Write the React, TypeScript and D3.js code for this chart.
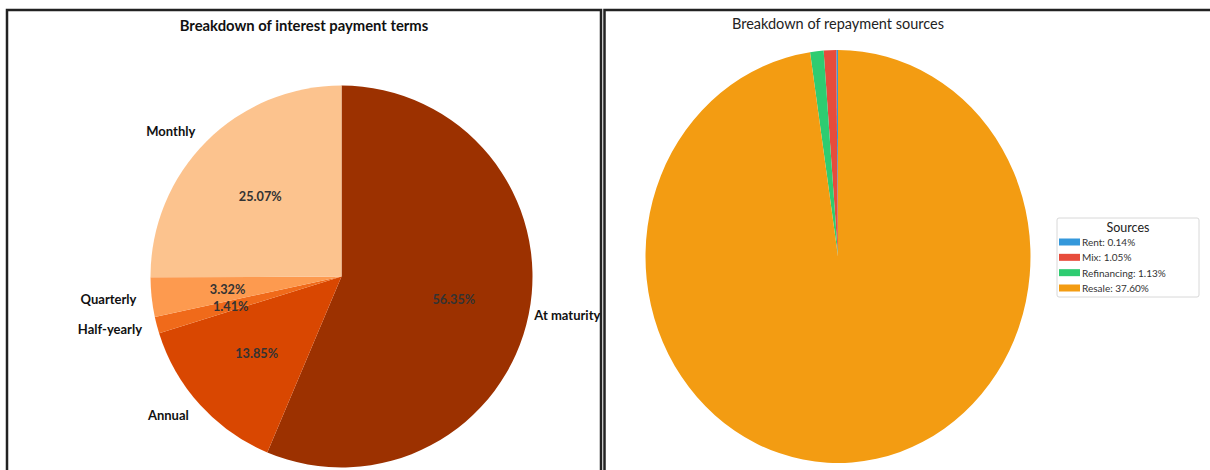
import React from "react";
import * as d3 from "d3";

const interestLabels = ["At maturity", "Annual", "Half-yearly", "Quarterly", "Monthly"];
const interestValues = [56.35, 13.85, 1.41, 3.32, 25.07];
const interestColors = ["#9c3100", "#d94701", "#f06a1a", "#fd9a4f", "#fcc38e"];

const sourceNames = ["Rent", "Mix", "Refinancing", "Resale"];
const sourceSlices = [0.14, 1.05, 1.13, 97.68];
const sourceLegendPct = ["0.14", "1.05", "1.13", "37.60"];
const sourceColors = ["#3498db", "#e74c3c", "#2ecc71", "#f39c12"];

const W = 1210;
const H = 470;
const FONT = "Lato, 'Open Sans', sans-serif";

export default function App() {
  // left pie
  const lcx = 341.5, lcy = 276.5, lr = 191;
  const leftPie = d3.pie<number>().sort(null).startAngle(0).endAngle(2 * Math.PI)(interestValues);
  const leftArc = d3.arc<d3.PieArcDatum<number>>().innerRadius(0).outerRadius(lr);
  const pctArc = d3.arc<d3.PieArcDatum<number>>().innerRadius(lr * 0.6).outerRadius(lr * 0.6);

  // right pie (elliptical)
  const rcx = 838, rcy = 256.5, rx = 192.5, ry = 206.5, base = 200;
  const rightPie = d3.pie<number>().sort(null).startAngle(0).endAngle(-2 * Math.PI)(sourceSlices);
  const rightArc = d3.arc<d3.PieArcDatum<number>>().innerRadius(0).outerRadius(base);

  const legX = 1057, legY = 218, legW = 142, legH = 79;
  const rowY = d3.scalePoint<string>().domain(sourceNames).range([242, 288]);

  return (
    <div style={{ position: "absolute", left: 0, top: 0 }}>
      <svg width={W} height={H} style={{ display: "block" }}>
        <rect x={0} y={0} width={W} height={H} fill="#fff" />
        {/* panel borders */}
        <path d={`M7,${H + 5} V10 H601 V${H + 5}`} fill="none" stroke="#222" strokeWidth={2.5} />
        <path d={`M604.5,${H + 5} V10 H${W + 5}`} fill="none" stroke="#222" strokeWidth={2.5} />

        {/* left chart */}
        <text x={304} y={31} textAnchor="middle" fontFamily={FONT} fontWeight={700} fontSize={14.8} fill="#111">
          Breakdown of interest payment terms
        </text>
        <g transform={`translate(${lcx},${lcy})`}>
          {leftPie.map((d, i) => (
            <path key={i} d={leftArc(d) || ""} fill={interestColors[i]} />
          ))}
          {leftPie.map((d, i) => {
            const [x, y] = pctArc.centroid(d);
            return (
              <text key={"p" + i} x={x} y={y} textAnchor="middle" dominantBaseline="central"
                fontFamily={FONT} fontWeight={700} fontSize={12.7} fill="#333">
                {interestValues[i].toFixed(2)}%
              </text>
            );
          })}
          {leftPie.map((d, i) => {
            const a = (d.startAngle + d.endAngle) / 2;
            const left = Math.sin(a) < 0;
            const labR = lr * (left ? 1.08 : 1.03);
            const x = Math.sin(a) * labR;
            const y = -Math.cos(a) * labR;
            return (
              <text key={"l" + i} x={x} y={y} textAnchor={left ? "end" : "start"} dominantBaseline="central"
                fontFamily={FONT} fontWeight={700} fontSize={13} fill="#111">
                {interestLabels[i]}
              </text>
            );
          })}
        </g>

        {/* right chart */}
        <text x={838} y={29} textAnchor="middle" fontFamily={FONT} fontSize={14.5} fill="#222">
          Breakdown of repayment sources
        </text>
        <g transform={`translate(${rcx},${rcy}) scale(${rx / base},${ry / base})`}>
          {rightPie.map((d, i) => (
            <path key={i} d={rightArc(d) || ""} fill={sourceColors[i]} />
          ))}
        </g>

        {/* legend */}
        <rect x={legX} y={legY} width={legW} height={legH} rx={2} fill="#fff" stroke="#d8d8d8" strokeWidth={1} />
        <text x={legX + legW / 2} y={231.5} textAnchor="middle" fontFamily={FONT} fontSize={12.5} fill="#222">
          Sources
        </text>
        {sourceNames.map((n, i) => {
          const y = rowY(n) as number;
          return (
            <g key={n}>
              <rect x={1059} y={y - 3.5} width={21} height={7} fill={sourceColors[i]} />
              <text x={1082} y={y} dominantBaseline="central" fontFamily={FONT} fontSize={10} fill="#333">
                {n}: {sourceLegendPct[i]}%
              </text>
            </g>
          );
        })}
      </svg>
    </div>
  );
}
